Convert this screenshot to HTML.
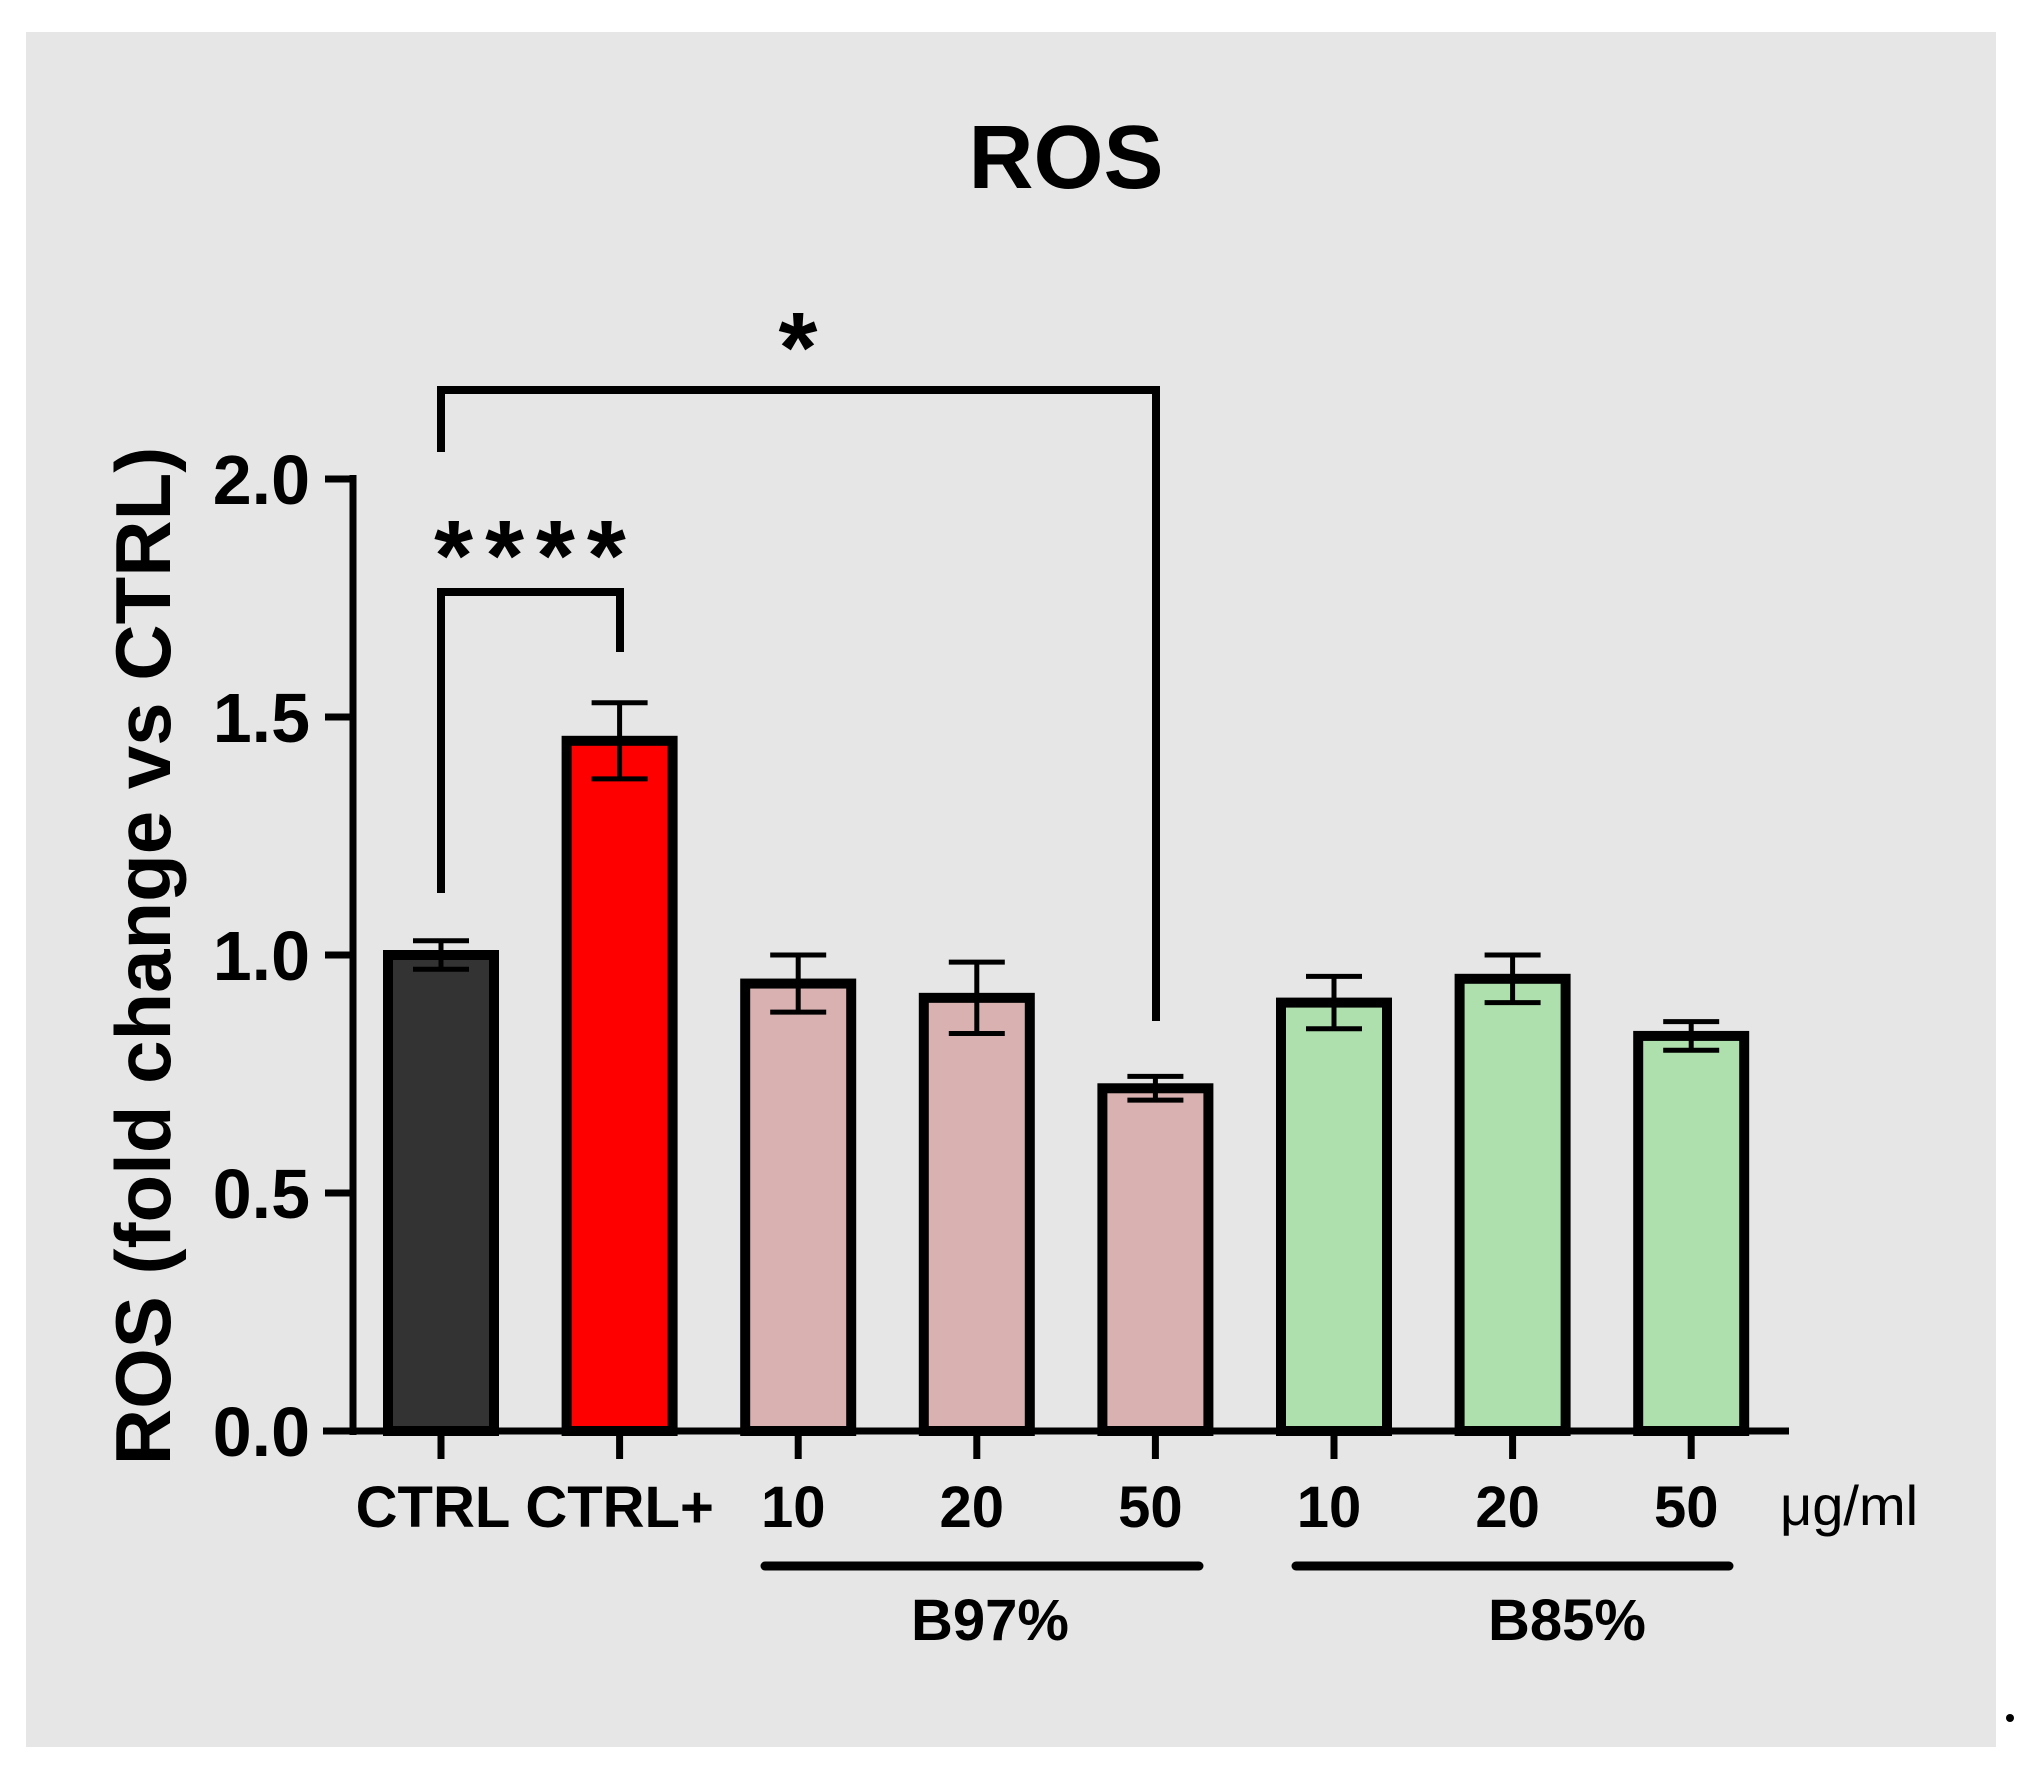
<!DOCTYPE html>
<html><head><meta charset="utf-8"><style>
html,body{margin:0;padding:0;background:#fff;}
svg{display:block;font-family:"Liberation Sans",Arial,sans-serif;}
</style></head><body>
<svg id="chart" width="2026" height="1772" viewBox="0 0 2026 1772">
<rect x="26" y="32" width="1970" height="1715" fill="#e6e6e6"/>
<text x="1066" y="188" font-size="90" font-weight="bold" text-anchor="middle">ROS</text>
<text transform="translate(170,956) rotate(-90)" font-size="78" font-weight="bold" text-anchor="middle">ROS (fold change vs CTRL)</text>
<g id="plot"></g>
<circle cx="2010" cy="1718" r="4" fill="#000"/>
</svg>
<script>
const categories = ["CTRL","CTRL+","10","20","50","10","20","50"];
const values = [1.0,1.45,0.94,0.91,0.72,0.90,0.95,0.83];
const errors = [0.03,0.08,0.06,0.075,0.025,0.055,0.05,0.03];
const colors = ["#333333","#ff0000","#d8b1b0","#d8b1b0","#d8b1b0","#aee0ae","#aee0ae","#aee0ae"];
const yTicks = [0,0.5,1.0,1.5,2.0];
const yTickLabels = ["0.0","0.5","1.0","1.5","2.0"];

const NS="http://www.w3.org/2000/svg";
const g=document.getElementById('plot');
const y0=1431, yPer=476;
const y=v=>y0-v*yPer;
const x=i=>441+i*178.6;
function mk(t,a){const e=document.createElementNS(NS,t);for(const k in a)e.setAttribute(k,a[k]);g.appendChild(e);return e;}
values.forEach((v,i)=>{
  const b=mk('rect',{x:x(i)-53,y:y(v),width:106,height:y(0)-y(v),fill:colors[i],stroke:'#000','stroke-width':10});
  
  
  const e=errors[i];
  const eb=mk('path',{d:`M${x(i)},${y(v+e)}V${y(v-e)}M${x(i)-28},${y(v+e)}H${x(i)+28}M${x(i)-28},${y(v-e)}H${x(i)+28}`,stroke:'#000','stroke-width':5,fill:'none'});
  
  
  const tk=mk('line',{x1:x(i),x2:x(i),y1:y0,y2:y0+28,stroke:'#000','stroke-width':7});
  
  
  const lb=mk('text',{x:x(i)+(i==0?-8:(i==1?0:-5)),y:1527,'font-size':58,'font-weight':'bold','text-anchor':'middle'});
  lb.textContent=categories[i];
  
  
});
let a=mk('line',{x1:353,x2:353,y1:y(2)-4,y2:y0+4,stroke:'#000','stroke-width':7});


a=mk('line',{x1:323,x2:1789,y1:y0,y2:y0,stroke:'#000','stroke-width':7});


yTicks.forEach((t,i)=>{
  const l=mk('line',{x1:325,x2:353,y1:y(t),y2:y(t),stroke:'#000','stroke-width':7});
  
  
  const tx=mk('text',{x:310,y:y(t)+25,'font-size':70,'font-weight':'bold','text-anchor':'end'});
  tx.textContent=yTickLabels[i];
  
  
});
let u=mk('text',{x:1780,y:1525,'font-size':56});u.textContent='μg/ml';


[[765,1199,990,'B97%'],[1296,1729,1567,'B85%']].forEach(([a1,a2,c,t])=>{
  const l=mk('line',{x1:a1,x2:a2,y1:1566,y2:1566,stroke:'#000','stroke-width':9,'stroke-linecap':'round'});
  
  
  const tx=mk('text',{x:c,y:1640,'font-size':58,'font-weight':'bold','text-anchor':'middle'});tx.textContent=t;
  
  
});
let br=mk('path',{d:`M441,893V592H620V652`,stroke:'#000','stroke-width':8,fill:'none'});


let s=mk('text',{x:536,y:590,'font-size':100,'font-weight':'bold','text-anchor':'middle','letter-spacing':'12'});s.textContent='****';


br=mk('path',{d:`M441,452V390H1156V1021`,stroke:'#000','stroke-width':8,fill:'none'});


s=mk('text',{x:798,y:382,'font-size':100,'font-weight':'bold','text-anchor':'middle'});s.textContent='*';


</script>
</body></html>
